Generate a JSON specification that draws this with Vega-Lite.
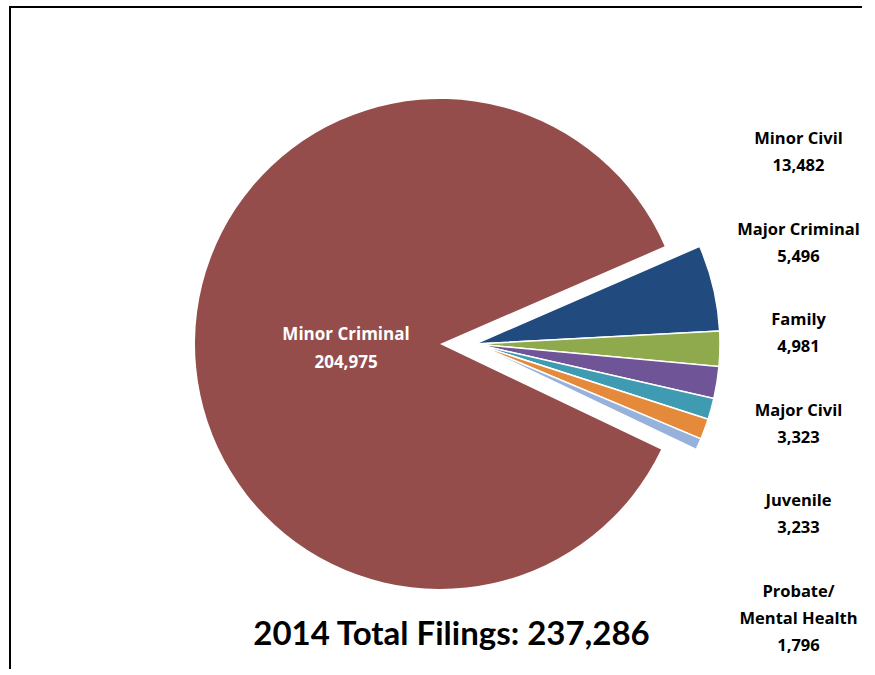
{
  "$schema": "https://vega.github.io/schema/vega-lite/v6.json",
  "autosize": {"type": "none"},
  "width": 895,
  "height": 674,
  "padding": {"left": 10, "top": 7, "right": -43, "bottom": -12},
  "background": "white",
  "config": {"view": {"stroke": "black", "strokeWidth": 2}},
  "title": {
    "text": "2014 Total Filings: 237,286",
    "orient": "bottom",
    "offset": -36,
    "baseline": "alphabetic",
    "font": "Lato",
    "fontSize": 33,
    "fontWeight": "bold",
    "color": "black",
    "dx": -6
  },
  "data": {
    "values": [
      {"category": "Minor Civil", "value": 13482, "idx": 1, "label": "Minor Civil\n13,482"},
      {"category": "Major Criminal", "value": 5496, "idx": 2, "label": "Major Criminal\n5,496"},
      {"category": "Family", "value": 4981, "idx": 3, "label": "Family\n4,981"},
      {"category": "Major Civil", "value": 3323, "idx": 4, "label": "Major Civil\n3,323"},
      {"category": "Juvenile", "value": 3233, "idx": 5, "label": "Juvenile\n3,233"},
      {"category": "Probate/Mental Health", "value": 1796, "idx": 6, "label": "Probate/\nMental Health\n1,796"},
      {"category": "Minor Criminal", "value": 204975, "idx": 7, "label": "Minor Criminal\n204,975"}
    ]
  },
  "transform": [
    {"stack": "value", "groupby": [], "sort": [{"field": "idx", "order": "ascending"}], "as": ["v0", "v1"]}
  ],
  "layer": [
    {
      "transform": [{"filter": "datum.category === 'Minor Criminal'"}],
      "mark": {"type": "arc", "radius": 245, "xOffset": -17.5},
      "encoding": {
        "theta": {"field": "v0", "type": "quantitative", "scale": {"domain": [0, 237286], "range": [1.1606, 7.4438]}},
        "theta2": {"field": "v1"},
        "color": {
          "field": "category", "type": "nominal", "legend": null,
          "scale": {
            "domain": ["Minor Civil", "Major Criminal", "Family", "Major Civil", "Juvenile", "Probate/Mental Health", "Minor Criminal"],
            "range": ["#214a7e", "#8eaa4c", "#6f5598", "#3e9bb1", "#e5893b", "#96b1db", "#944d4b"]
          }
        }
      }
    },
    {
      "transform": [{"filter": "datum.category !== 'Minor Criminal'"}],
      "mark": {"type": "arc", "radius": 245, "xOffset": 17.5, "stroke": "white", "strokeWidth": 1.5},
      "encoding": {
        "theta": {"field": "v0", "type": "quantitative", "scale": {"domain": [0, 237286], "range": [1.1606, 7.4438]}},
        "theta2": {"field": "v1"},
        "color": {"field": "category", "type": "nominal", "legend": null}
      }
    },
    {
      "mark": {"type": "text", "radius": 94, "xOffset": -17.5, "yOffset": -7, "font": "Open Sans", "fontSize": 17, "fontWeight": "bold", "color": "white", "lineBreak": "\n", "lineHeight": 28, "align": "center", "baseline": "middle"},
      "encoding": {
        "theta": {"field": "value", "type": "quantitative", "stack": true, "scale": {"domain": [0, 237286], "range": [1.1606, 7.4438]}},
        "order": {"field": "idx", "type": "quantitative"},
        "text": {"condition": {"test": "datum.category === 'Minor Criminal'", "field": "label"}, "value": ""}
      }
    },
    {
      "transform": [{"filter": "datum.category !== 'Minor Criminal'"}],
      "mark": {"type": "text", "xOffset": 341, "align": "center", "baseline": "middle", "font": "Open Sans", "fontSize": 16.5, "fontWeight": "bold", "color": "black", "lineBreak": "\n", "lineHeight": 27},
      "encoding": {
        "y": {
          "field": "category", "type": "nominal", "axis": null,
          "sort": ["Minor Civil", "Major Criminal", "Family", "Major Civil", "Juvenile", "Probate/Mental Health"],
          "scale": {"type": "point", "range": [132, 585], "padding": 0}
        },
        "text": {"field": "label"}
      }
    }
  ]
}
